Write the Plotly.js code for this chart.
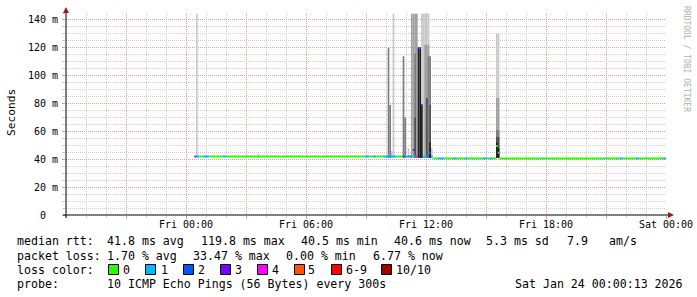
<!DOCTYPE html>
<html><head><meta charset="utf-8">
<script src="https://cdn.plot.ly/plotly-3.0.1.min.js"></script>
<style>html,body{margin:0;padding:0;background:#fff;}#chart{width:697px;height:297px;}</style>
</head><body><div id="chart"></div>
<script>
// ---------------- data ----------------
const xStart = '2026-01-22 18:00';
const xEnd = '2026-01-24 00:00';
const day = '2026-01-23';
const xMajorTicks = ['2026-01-22 21:00','2026-01-23 00:00','2026-01-23 03:00','2026-01-23 06:00','2026-01-23 09:00','2026-01-23 12:00','2026-01-23 15:00','2026-01-23 18:00','2026-01-23 21:00','2026-01-24 00:00'];
const xMajorLabels = ['','Fri 00:00','','Fri 06:00','','Fri 12:00','','Fri 18:00','','Sat 00:00'];
const yTickVals = [0,20,40,60,80,100,120,140];
const yTickLabels = ['0\u00a0\u00a0','20 m','40 m','60 m','80 m','100 m','120 m','140 m'];

// median rtt (ms) segments, Friday times, with loss bucket index
const medianStart = ['00:25','00:30','00:40','00:50','01:10','01:50','02:00','08:55','09:10','09:20','09:30','09:50','10:30','10:50','10:55','11:10','11:15','11:20','11:25','11:30','11:35','11:45','11:50','12:05','12:10','12:15','12:20','12:35','12:55','13:20','13:30','13:55','14:05','14:50','15:00','15:10','15:20','15:30','15:35','15:40','17:50','17:55','20:50','20:55','21:40','21:50','22:30','22:40','23:50'];
const medianEnd   = ['00:30','00:40','00:50','01:10','01:50','02:00','08:55','09:10','09:20','09:30','09:50','10:30','10:50','10:55','11:10','11:15','11:20','11:25','11:30','11:35','11:45','11:50','12:05','12:10','12:15','12:20','12:35','12:55','13:20','13:30','13:55','14:05','14:50','15:00','15:10','15:20','15:30','15:35','15:40','17:50','17:55','20:50','20:55','21:40','21:50','22:30','22:40','23:50','24:00'];
const medianValue = [42.0,42.0,42.0,42.0,42.0,42.0,42.0,42.0,42.0,42.0,42.0,42.0,42.0,42.0,42.0,42.0,42.0,46.6,42.0,42.0,119.8,79.0,42.0,42.0,44.7,42.0,40.6,40.6,40.6,40.6,40.6,40.6,40.6,40.6,40.6,40.6,40.6,49.5,44.7,40.6,40.6,40.6,40.6,40.6,40.6,40.6,40.6,40.6,40.6];
const medianLoss  = [2,1,0,1,0,1,0,1,0,1,0,1,0,3,1,2,1,3,1,4,2,2,1,2,2,1,0,1,0,1,0,1,0,1,0,1,0,0,0,0,1,0,1,0,1,0,1,0,1];

// smoke (ping spread) per 5-minute step: step start (Friday) and upper edge (ms)
const smokeBase = 41;
const smokeLightStart = ['00:30','03:35','10:15','10:20','11:05','11:45','11:50','11:55','12:00','12:05','12:15','15:30','15:35'];
const smokeLightTop   = [144.5,44,46,144.5,48,144.5,144.5,144.5,144.5,144.5,48,130,130];
const smokeMidStart   = ['11:15','11:20','11:25','11:30','11:55','12:00','12:05','15:30','15:35'];
const smokeMidTop     = [144.5,144.5,144.5,144.5,122,122,122,84,84];
const smokeDarkStart  = ['10:05','10:10','10:50','10:55','11:25','12:05','12:10','15:30','15:35'];
const smokeDarkTop    = [120,79,114,70,116,114,114,61,61];
const smokeDarkerStart= ['11:25','12:00','12:10','15:30','15:35'];
const smokeDarkerTop  = [70,84,79,56,56];
const smokeBlackStart = ['11:35','11:40','11:45','12:10','15:30','15:35'];
const smokeBlackTop   = [119.8,119.8,79,52,52,48];

const lossLabels = ['0','1','2','3','4','5','6-9','10/10'];
const rttLine  = ['median rtt:','41.8 ms avg','119.8 ms max','40.5 ms min','40.6 ms now','5.3 ms sd','7.9','am/s'];
const lossLine = ['packet loss:','1.70 % avg','33.47 % max','0.00 % min','6.77 % now'];
const probeLine = ['probe:','10 ICMP Echo Pings (56 Bytes) every 300s','Sat Jan 24 00:00:13 2026'];
const lossTitle = 'loss color:';
const yTitle = 'Seconds';
const sideText = 'RRDTOOL / TOBI OETIKER';

// ---------------- styles ----------------
const lossColors = ['#26ff00','#00b8ff','#0059ff','#7e00ff','#ff00ff','#ff5500','#ff0000','#a10000'];
const FONT = 'DejaVu Sans Mono';
const toTime = hm => hm === '24:00' ? '2026-01-24 00:00' : day + ' ' + hm;

const traces = [];
function smoke(starts, tops, color) {
  traces.push({type:'bar', x: starts.map(toTime), y: tops.map(t => t - smokeBase), base: smokeBase,
    width: 300000, offset: 0, marker:{color: color, line:{width:0}}, hoverinfo:'skip', showlegend:false});
}
smoke(smokeLightStart, smokeLightTop, '#c8c8c8');
smoke(smokeMidStart, smokeMidTop, '#a0a0a0');
smoke(smokeDarkStart, smokeDarkTop, '#7c7c7c');
smoke(smokeDarkerStart, smokeDarkerTop, '#505050');
smoke(smokeBlackStart, smokeBlackTop, '#1e1e1e');

lossColors.forEach((c, i) => {
  const xs = [], ys = [];
  medianStart.forEach((s, k) => {
    if (medianLoss[k] === i) {
      xs.push(toTime(s), toTime(medianEnd[k]), null);
      ys.push(medianValue[k], medianValue[k], null);
    }
  });
  if (xs.length) traces.push({type:'scatter', mode:'lines', x: xs, y: ys, connectgaps:false,
    line:{color:c, width:2}, hoverinfo:'skip', showlegend:false});
});

// pixel helpers for decorations (plot area: x 66..666, y 13..215)
const PX = p => (p - 66) / 600;
const PY = p => (215 - p) / 202;

const annotations = [];
function txt(text, px, py, opts) {
  annotations.push(Object.assign({text: text, xref:'paper', yref:'paper', x: PX(px), y: PY(py),
    xanchor:'left', yanchor:'middle', showarrow:false, borderpad:0, borderwidth:0,
    font:{family:FONT, size:11.6, color:'#000'}}, opts || {}));
}
const rttX = [16.5,107.3,200.9,301,393.7,486.4,566.6,608.5];
rttLine.forEach((t, i) => txt(t, rttX[i], 241.5));
const lossX = [16.5,107.3,193.3,286.4,372.8];
lossLine.forEach((t, i) => txt(t, lossX[i], 255.5));
txt(lossTitle, 16.5, 269.5);
const boxX = [108.5,145.5,183.5,220.5,257.5,294.5,331.5,381.5];
const boxLabelX = [123.4,160.8,197.8,234.7,271.7,308,345.7,396.4];
lossLabels.forEach((t, i) => txt(t, boxLabelX[i], 269.5));
txt(probeLine[0], 16.5, 283.5);
txt(probeLine[1], 107.3, 283.5);
txt(probeLine[2], 514.5, 283.5);
txt(yTitle, 11, 113, {xanchor:'center', textangle:-90, font:{family:FONT, size:11.2, color:'#000'}});
txt(sideText, 686, 59, {xanchor:'center', textangle:90, font:{family:FONT, size:8, color:'#b0b0b0'}});

const shapes = [];
lossColors.forEach((c, i) => {
  shapes.push({type:'rect', xref:'paper', yref:'paper', x0: PX(boxX[i]), x1: PX(boxX[i] + 10),
    y0: PY(264.5), y1: PY(274.5), fillcolor: c, line:{color:'#000', width:1}});
});
// axis lines and arrows
shapes.push({type:'line', xref:'paper', yref:'paper', x0:PX(66), x1:PX(66), y0:PY(218), y1:PY(10), line:{color:'#000', width:1}});
shapes.push({type:'line', xref:'paper', yref:'paper', x0:PX(63), x1:PX(670), y0:PY(215), y1:PY(215), line:{color:'#000', width:1}});
shapes.push({type:'path', xref:'paper', yref:'paper', fillcolor:'#a01818', line:{width:0},
  path:`M ${PX(66)} ${PY(7)} L ${PX(63)} ${PY(13)} L ${PX(69)} ${PY(13)} Z`});
shapes.push({type:'path', xref:'paper', yref:'paper', fillcolor:'#a01818', line:{width:0},
  path:`M ${PX(674)} ${PY(215)} L ${PX(668)} ${PY(212)} L ${PX(668)} ${PY(218)} Z`});

const tickFont = {family:FONT, size:10, color:'#000'};
const layout = {
  width:697, height:297, margin:{l:66, r:31, t:13, b:82, pad:0},
  paper_bgcolor:'#fff', plot_bgcolor:'#fff', showlegend:false, barmode:'overlay',
  xaxis:{type:'date', range:[xStart, xEnd], tickmode:'array', tickvals:xMajorTicks, ticktext:xMajorLabels,
    showgrid:true, gridcolor:'#e49a9a', griddash:'1px,1px', gridwidth:1,
    ticks:'outside', ticklen:3, tickcolor:'#e49a9a', tickfont:tickFont, ticklabelstandoff:-3,
    zeroline:false, showline:false, fixedrange:true,
    minor:{dtick:3600000, tick0:xStart, showgrid:true, gridcolor:'#cccccc', griddash:'1px,1px', gridwidth:1,
      ticks:'outside', ticklen:2, tickcolor:'#cccccc'}},
  yaxis:{range:[0,145], tickmode:'array', tickvals:yTickVals, ticktext:yTickLabels,
    showgrid:true, gridcolor:'#e49a9a', griddash:'1px,1px', gridwidth:1,
    ticks:'outside', ticklen:3, tickcolor:'#e49a9a', tickfont:tickFont, ticklabelstandoff:2,
    zeroline:false, showline:false, fixedrange:true,
    minor:{dtick:5, tick0:0, showgrid:true, gridcolor:'#cccccc', griddash:'1px,1px', gridwidth:1,
      ticks:'outside', ticklen:3, tickcolor:'#cccccc'}},
  annotations: annotations, shapes: shapes
};
Plotly.newPlot('chart', traces, layout, {staticPlot:true, displayModeBar:false});
</script></body></html>
